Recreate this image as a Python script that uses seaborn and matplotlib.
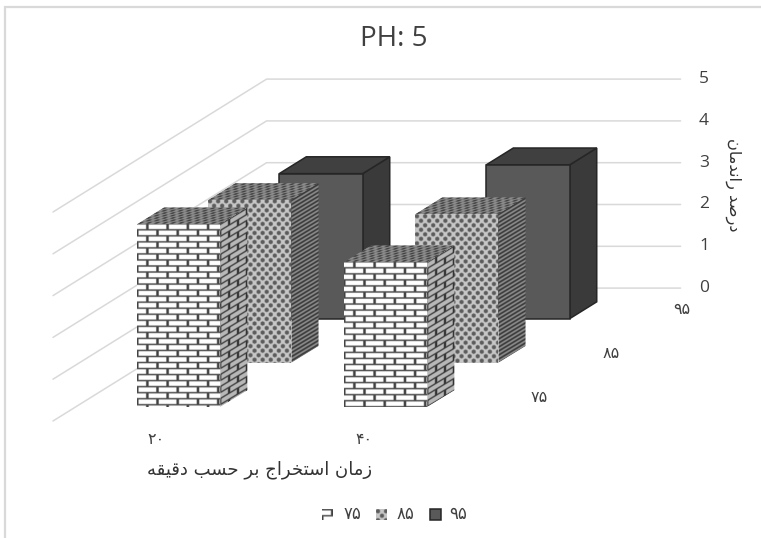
import numpy as np
import matplotlib
matplotlib.use("Agg")
import matplotlib.pyplot as plt
from matplotlib.patches import Polygon
from matplotlib.transforms import Affine2D
import seaborn as sns

# Extraction time categories, temperature series and yield values
time_labels = ["۲۰", "۴۰"]
series_labels = ["۷۵", "۸۵", "۹۵"]
values_75 = [4.38, 3.47]
values_85 = [3.90, 3.56]
values_95 = [3.47, 3.68]
value_ticks = [0, 1, 2, 3, 4, 5]

title_text = "PH: 5"
xlabel_text = "زمان استخراج بر حسب دقیقه"
zlabel_text = "درصد راندمان"

# Contextual forms of the Arabic letters used: isolated, final, initial, medial
FORMS = {
    "ا": (0xFE8D, 0xFE8E), "د": (0xFEA9, 0xFEAA), "ر": (0xFEAD, 0xFEAE), "ز": (0xFEAF, 0xFEB0),
    "ب": (0xFE8F, 0xFE90, 0xFE91, 0xFE92), "ت": (0xFE95, 0xFE96, 0xFE97, 0xFE98),
    "ج": (0xFE9D, 0xFE9E, 0xFE9F, 0xFEA0), "ح": (0xFEA1, 0xFEA2, 0xFEA3, 0xFEA4),
    "خ": (0xFEA5, 0xFEA6, 0xFEA7, 0xFEA8), "س": (0xFEB1, 0xFEB2, 0xFEB3, 0xFEB4),
    "ص": (0xFEB9, 0xFEBA, 0xFEBB, 0xFEBC), "ق": (0xFED5, 0xFED6, 0xFED7, 0xFED8),
    "م": (0xFEE1, 0xFEE2, 0xFEE3, 0xFEE4), "ن": (0xFEE5, 0xFEE6, 0xFEE7, 0xFEE8),
    "ه": (0xFEE9, 0xFEEA, 0xFEEB, 0xFEEC), "ی": (0xFBFC, 0xFBFD, 0xFBFE, 0xFBFF),
}


def shape_rtl(text):
    """Join Arabic letters and return them in display order."""
    out = []
    for i, ch in enumerate(text):
        forms = FORMS.get(ch)
        if forms is None:
            out.append(ch)
            continue
        prev = text[i - 1] if i else " "
        nxt = text[i + 1] if i + 1 < len(text) else " "
        joins_prev = prev in FORMS and len(FORMS[prev]) == 4
        joins_next = nxt in FORMS and len(forms) == 4
        if joins_prev and joins_next:
            code = forms[3]
        elif joins_prev:
            code = forms[1]
        elif joins_next:
            code = forms[2]
        else:
            code = forms[0]
        out.append(chr(code))
    return "".join(reversed(out))


sns.set_theme(style="white", rc={"font.family": ["Open Sans", "DejaVu Sans"]})
fig = plt.figure(figsize=(7.61, 5.38), dpi=100)
ax = fig.add_axes([0, 0, 1, 1])
ax.set_xlim(0, 761)
ax.set_ylim(538, 0)
sns.despine(ax=ax, left=True, bottom=True)
ax.axis("off")

# Oblique projection of the 3-D chart box on to the canvas
ORIGIN = np.array([53.0, 421.0])
CAT_STEP = 207.0
DEPTH_X, DEPTH_Y = 71.2, 44.3
UNIT = 41.8
BAR_WIDTH = 0.403
BAR_DEPTH = 0.38


def project(cat, depth, value):
    return np.array([ORIGIN[0] + CAT_STEP * cat + DEPTH_X * depth,
                     ORIGIN[1] - UNIT * value - DEPTH_Y * depth])


# Fill patterns at two texels per canvas pixel
def soften(t):
    """Light wrap-around smoothing so pattern edges are not razor sharp."""
    out = t * 0.5
    for axis in (0, 1):
        out = out + 0.125 * (np.roll(t, 1, axis) + np.roll(t, -1, axis))
    return out


def brick_tile():
    t = np.ones((24, 40))
    t[0:3, :] = 0.30
    t[12:15, :] = 0.30
    t[3:12, 18:23] = 0.25
    t[15:24, 38:40] = 0.25
    t[15:24, 0:3] = 0.25
    return soften(t)


def dot_tile():
    h, w = 18, 16
    yy, xx = np.mgrid[0:h, 0:w]
    t = np.full((h, w), 0.78)
    for cx, cy in [(4, 4.5), (12, 13.5), (-4, 13.5), (20, 4.5)]:
        r = np.hypot(xx - cx + 0.5, yy - cy + 0.5)
        t[r < 4.2] = 0.36
    return soften(t)


def stripe_tile():
    t = np.full((8, 8), 0.78)
    t[0:4, :] = 0.30
    return soften(t)


TILES = {"75": brick_tile(), "85": dot_tile()}
SIDES = {"75": brick_tile(), "85": stripe_tile()}


def draw_face(tile, p0, e1, e2, zorder, shade=1.0):
    """Paint a parallelogram with a repeated tile, sheared along its edges."""
    n1 = max(2, int(np.hypot(*e1) * 2))
    n2 = max(2, int(np.hypot(*e2) * 2))
    ry = int(np.ceil(n2 / tile.shape[0]))
    rx = int(np.ceil(n1 / tile.shape[1]))
    img = np.tile(tile, (ry, rx))[:n2, :n1] * shade
    trans = Affine2D.from_values(e1[0] / n1, e1[1] / n1, e2[0] / n2, e2[1] / n2, p0[0], p0[1])
    im = ax.imshow(img, cmap="gray", vmin=0, vmax=1, extent=(0, n1, n2, 0), aspect="auto",
                   interpolation="bilinear", transform=trans + ax.transData, zorder=zorder)
    im.set_clip_path(Polygon([p0, p0 + e1, p0 + e1 + e2, p0 + e2], transform=ax.transData))


def draw_bar(cat, series, value, key, zorder):
    left = cat + 0.5 - BAR_WIDTH / 2
    near = series + 0.31
    tl = project(left, near, value)
    bl = project(left, near, 0)
    tr = project(left + BAR_WIDTH, near, value)
    br = project(left + BAR_WIDTH, near, 0)
    tb = project(left + BAR_WIDTH, near + BAR_DEPTH, value)
    lb = project(left, near + BAR_DEPTH, value)
    if key == "95":
        faces = [([tr, tb, tb + (br - tr), br], "#3a3a3a"), ([tl, lb, tb, tr], "#404040"),
                 ([tl, tr, br, bl], "#595959")]
        for pts, col in faces:
            ax.add_patch(Polygon(pts, closed=True, facecolor=col, edgecolor="#262626",
                                 linewidth=1.1, zorder=zorder))
    else:
        draw_face(TILES["85"], tl, tr - tl, tb - tr, zorder, shade=0.72)
        draw_face(SIDES[key], tr, tb - tr, br - tr, zorder, shade=0.72)
        draw_face(TILES[key], tl, tr - tl, bl - tl, zorder)


# Back wall and left wall gridlines
for v in value_ticks:
    a, b, c = project(0, 0, v), project(0, 3, v), project(2, 3, v)
    ax.plot([a[0], b[0], c[0]], [a[1], b[1], c[1]], color="#d9d9d9", lw=1.1, zorder=1,
            solid_joinstyle="miter")
    ax.text(704, c[1], str(v), ha="center", va="center", fontsize=12.5, color="#404040")

# Bars, from the back row to the front one
all_values = {"75": values_75, "85": values_85, "95": values_95}
for s, key in zip((2, 1, 0), ("95", "85", "75")):
    for c, val in enumerate(all_values[key]):
        draw_bar(c, s, val, key, zorder=10 - s)

# Axis labels
for c, lab in enumerate(time_labels):
    x, y = project(c + 0.5, 0, 0)
    ax.text(x, y + 19, lab, ha="center", va="center", fontsize=11.5, color="#404040",
            family="DejaVu Sans")
for s, lab in enumerate(series_labels):
    x, y = project(2, s + 0.5, 0)
    ax.text(x + 37, y - 1, lab, ha="center", va="center", fontsize=11.5, color="#404040",
            family="DejaVu Sans")

ax.text(394, 38.5, title_text, ha="center", va="center", fontsize=20, color="#404040")
ax.text(260, 470, shape_rtl(xlabel_text), ha="center", va="center", fontsize=13,
        color="#333333", family="DejaVu Sans")
ax.text(733, 185, shape_rtl(zlabel_text), ha="center", va="center", rotation=-90, fontsize=11.7,
        color="#333333", family="DejaVu Sans")

# Legend row
swatch_x = [322, 376, 430]
text_x = [352, 405, 458]
for x0, tx, lab, key in zip(swatch_x, text_x, series_labels, ["75", "85", "95"]):
    p = np.array([x0, 509.0])
    if key == "95":
        ax.add_patch(Polygon([p, p + [11, 0], p + [11, 11], p + [0, 11]], facecolor="#595959",
                             edgecolor="#262626", linewidth=1.1, zorder=5))
    else:
        draw_face(TILES[key], p, np.array([11.0, 0.0]), np.array([0.0, 11.0]), 5)
    ax.text(tx, 514, lab, ha="center", va="center", fontsize=12, color="#404040",
            family="DejaVu Sans")

# Outer frame along the top and left edges
ax.plot([761, 5, 5], [6.5, 6.5, 538], color="#d9d9d9", lw=1.6, zorder=0,
        solid_joinstyle="miter")

ax.set_xlim(0, 761)
ax.set_ylim(538, 0)
fig.savefig("out.png", dpi=100, facecolor="white")
